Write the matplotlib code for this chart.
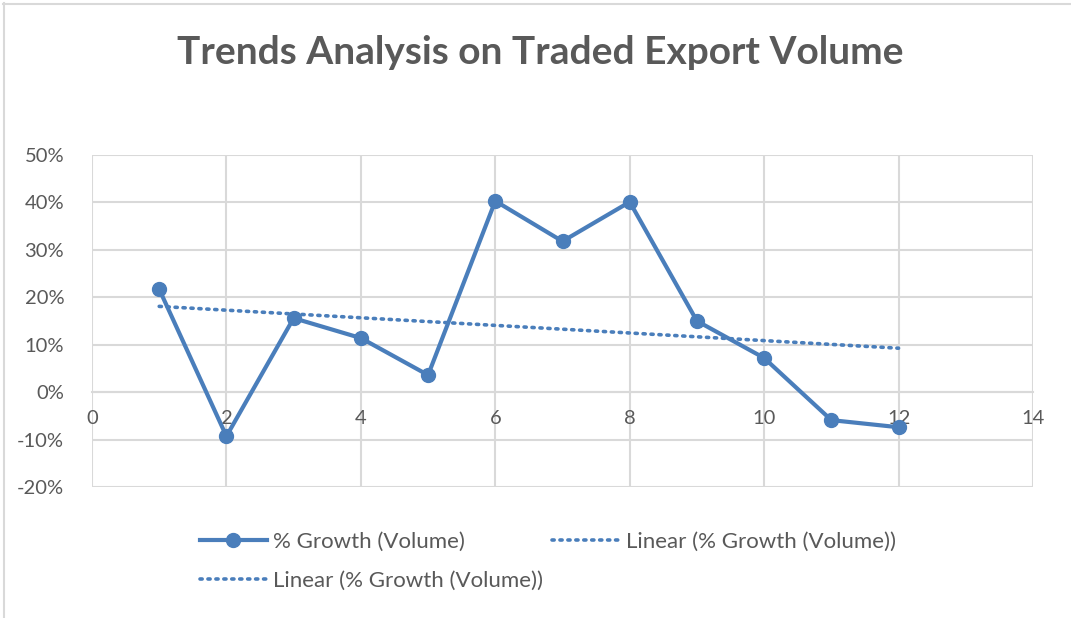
import numpy as np
import matplotlib
matplotlib.use("Agg")
import matplotlib.pyplot as plt
from matplotlib.lines import Line2D
from matplotlib.ticker import FuncFormatter, MultipleLocator

plt.rcParams['font.family'] = ['Lato', 'DejaVu Sans']

title = "Trends Analysis on Traded Export Volume"
periods = [1, 2, 3, 4, 5, 6, 7, 8, 9, 10, 11, 12]
growth_pct = [21.7, -9.3, 15.6, 11.4, 3.6, 40.3, 31.8, 40.1, 15.0, 7.2, -5.9, -7.4]
series_label = "% Growth (Volume)"
trend_label = "Linear (% Growth (Volume))"

BLUE = "#4a7ebb"
GRID = "#d9d9d9"
TXT = "#595959"

x = np.array(periods, dtype=float)
y = np.array(growth_pct) / 100.0
coef = np.polyfit(x, y, 1)
trend = np.polyval(coef, x)

fig = plt.figure(figsize=(10.71, 6.18), dpi=100)
ax = fig.add_axes([92/1071, 1-487/618, (1033-92)/1071, (487-155)/618])

DOT = (0, (0.6, 1.6))
ax.plot(x, trend, linestyle=DOT, color=BLUE, linewidth=2.6,
        dash_capstyle='round', zorder=3)
ax.plot(x, y, color=BLUE, linewidth=3, marker='o', markersize=10, zorder=4)

ax.set_xlim(0, 14)
ax.set_ylim(-0.2, 0.5)
ax.xaxis.set_major_locator(MultipleLocator(2))
ax.yaxis.set_major_locator(MultipleLocator(0.1))
ax.yaxis.set_major_formatter(FuncFormatter(lambda v, p: f"{v*100:.0f}%"))
ax.grid(True, color=GRID, linewidth=1.5, zorder=0)
ax.set_axisbelow(True)
for s in ['top', 'right', 'left']:
    ax.spines[s].set_visible(False)
ax.spines['bottom'].set_position(('data', 0))
ax.spines['bottom'].set_color(GRID)
ax.spines['bottom'].set_linewidth(1.5)
ax.tick_params(axis='both', length=0, labelsize=14.5, colors=TXT)
ax.tick_params(axis='y', pad=20)
ax.tick_params(axis='x', pad=13)

fig.text(540/1071, 1-52/618, title, ha='center', va='center', fontsize=28,
         fontweight='bold', color=TXT)

handles = [
    Line2D([], [], color=BLUE, linewidth=3, marker='o', markersize=10),
    Line2D([], [], color=BLUE, linewidth=2.6, linestyle=DOT, dash_capstyle='round'),
    Line2D([], [], color=BLUE, linewidth=2.6, linestyle=DOT, dash_capstyle='round'),
]
labels = [series_label, trend_label, trend_label]
leg = fig.legend(handles, labels, ncol=2, loc='upper left',
                 bbox_to_anchor=(180/1071, 1-512/618), frameon=False,
                 fontsize=16, handlelength=3.0, handletextpad=0.3,
                 columnspacing=0.4, labelspacing=0.85, labelcolor=TXT)

fig.add_artist(Line2D([3/1071, 1], [1-4/618, 1-4/618], color=GRID, linewidth=1.5,
                      transform=fig.transFigure))
fig.add_artist(Line2D([4/1071, 4/1071], [0, 1-3/618], color=GRID, linewidth=1.5,
                      transform=fig.transFigure))

fig.savefig("out.png", dpi=100, facecolor='white')
